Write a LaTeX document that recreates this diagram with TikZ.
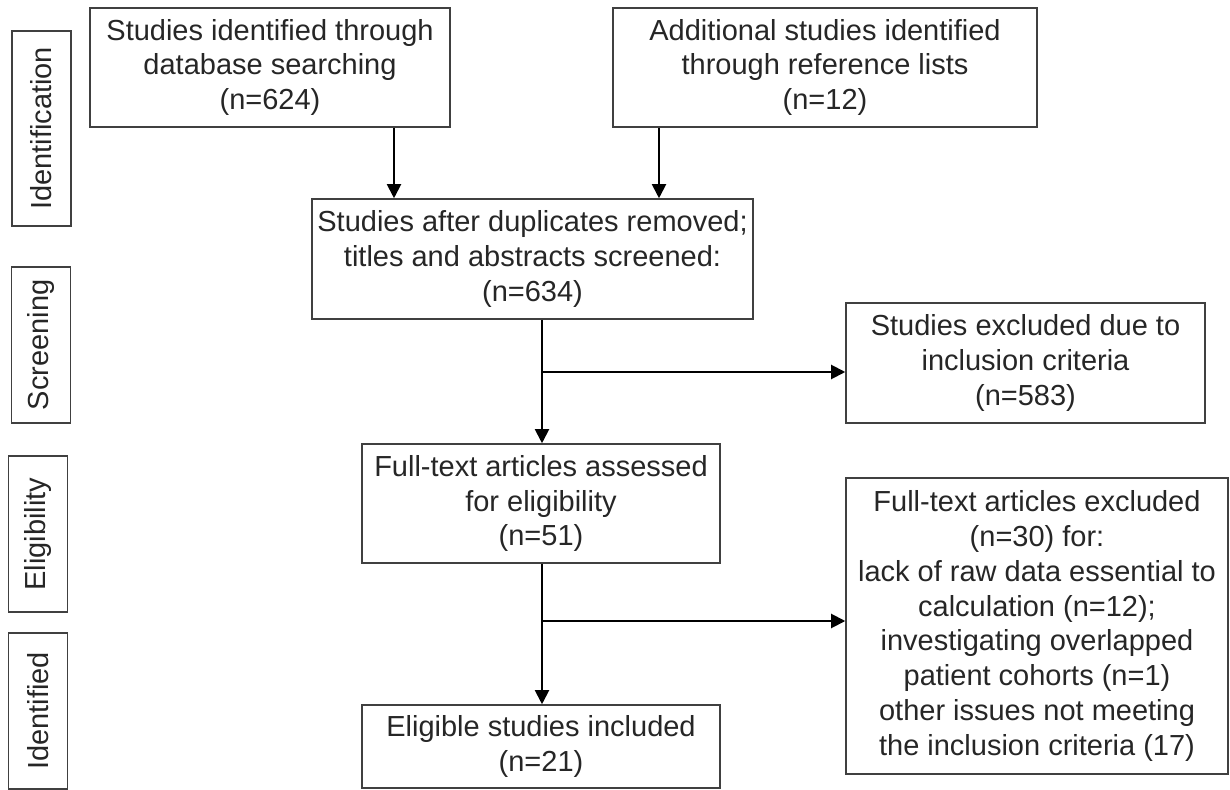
\documentclass[tikz,border=0pt]{standalone}
\usepackage{fontspec}
\setmainfont{Liberation Sans}
\usetikzlibrary{arrows.meta}

\begin{document}
\begin{tikzpicture}[x=0.02cm, y=-0.02cm,
  box/.style={draw=black!75, line width=0.9pt, align=center, inner sep=0pt,
    text=black!85, font=\fontsize{16.5}{19.9}\selectfont},
  phase/.style={box, rotate=90, minimum height=1.18cm},
  flow/.style={line width=1.1pt, -{Triangle[length=8pt,width=8pt]}}]
%\draw [lightgray](0,0) grid[step=50] (1230,790);
\useasboundingbox (0,0) rectangle (1230,790);

% phases
\node [phase, minimum width=3.9cm] (ident) at (41.5,128.5) {Identification};
\node [phase, minimum width=3.12cm] (screen) at (41,345) {Screening};
\node [phase, minimum width=3.12cm] (elig) at (38,534) {Eligibility};
\node [phase, minimum width=3.12cm] (incl) at (38,711) {Identified};

% boxes
\node [box, minimum width=7.2cm, minimum height=2.38cm] (db) at (270,67.5)
  {Studies identified through\\database searching\\(n=624)};
\node [box, minimum width=8.48cm, minimum height=2.38cm] (refs) at (825,67.5)
  {Additional studies identified\\through reference lists\\(n=12)};
\node [box, minimum width=8.82cm, minimum height=2.4cm] (dedup) at (532.5,259)
  {Studies after duplicates removed;\\titles and abstracts screened:\\(n=634)};
\node [box, minimum width=7.18cm, minimum height=2.4cm] (excl) at (1025.5,363)
  {Studies excluded due to\\inclusion criteria\\(n=583)};
\node [box, minimum width=7.16cm, minimum height=2.38cm] (full) at (541,503.5)
  {Full-text articles assessed\\for eligibility\\(n=51)};
\node [box, minimum width=7.64cm, minimum height=5.92cm] (fullex) at (1037,626)
  {Full-text articles excluded\\(n=30) for:\\lack of raw data essential to\\calculation (n=12);\\investigating overlapped\\patient cohorts (n=1)\\other issues not meeting\\the inclusion criteria (17)};
\node [box, minimum width=7.16cm, minimum height=1.66cm] (final) at (541,746.5)
  {Eligible studies included\\(n=21)};

% arrows
\coordinate (a1) at (394,0);
\coordinate (a2) at (659,0);
\coordinate (s1) at (542,372);
\coordinate (s2) at (542,621);
\draw [flow] (a1 |- db.south) -- (a1 |- dedup.north);
\draw [flow] (a2 |- refs.south) -- (a2 |- dedup.north);
\draw [flow] (s1 |- dedup.south) -- (s1 |- full.north);
\draw [flow] (s1) -- (s1 -| excl.west);
\draw [flow] (s2 |- full.south) -- (s2 |- final.north);
\draw [flow] (s2) -- (s2 -| fullex.west);
\end{tikzpicture}
\end{document}
